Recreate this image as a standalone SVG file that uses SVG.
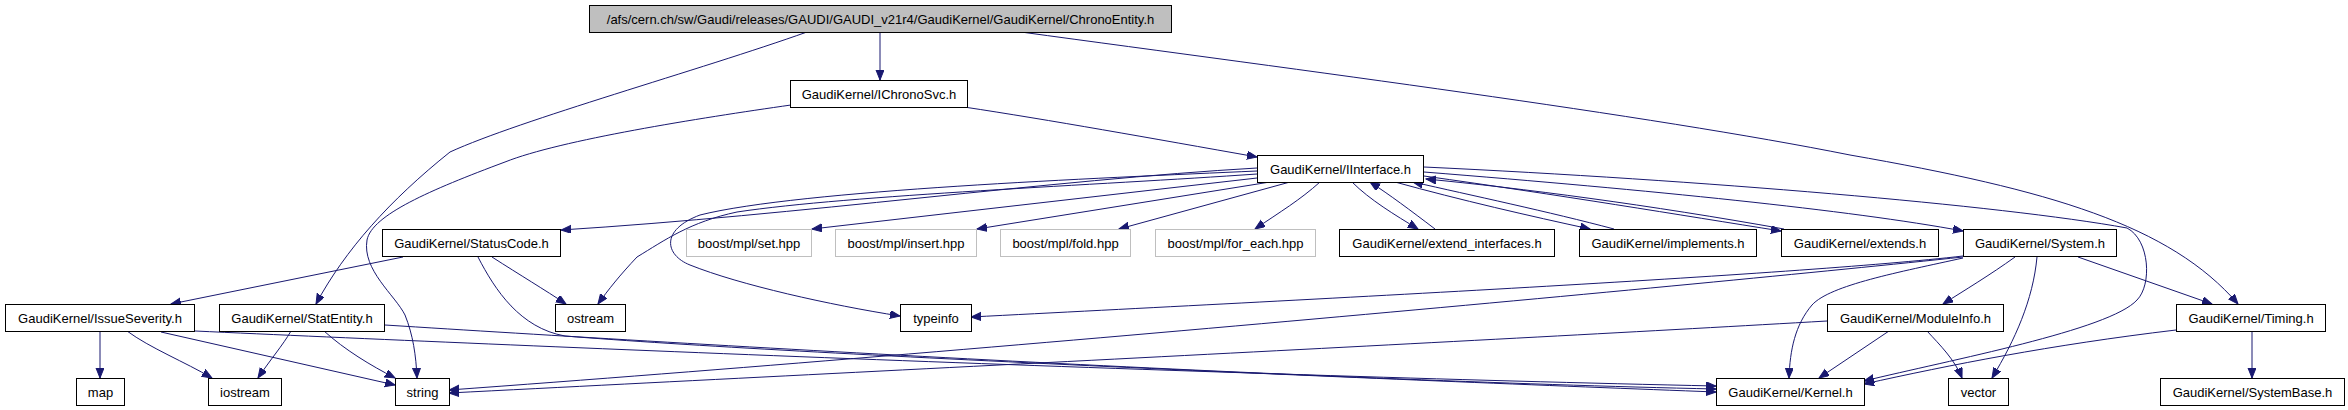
<svg xmlns="http://www.w3.org/2000/svg" width="2348" height="410" viewBox="0 0 2348 410">
<style>
.n rect{fill:#ffffff;stroke:#000000;stroke-width:1}
.n.root rect{fill:#bfbfbf}
.n.ext rect{stroke:#bfbfbf}
.n text{font-family:"Liberation Sans",Arial,sans-serif;font-size:13px;fill:#000000;text-anchor:middle}
#edges path{fill:none;stroke:#191970;stroke-width:1;marker-end:url(#arr)}
</style>
<defs>
<marker id="arr" markerWidth="11" markerHeight="9" refX="10" refY="4" orient="auto" markerUnits="userSpaceOnUse">
<path d="M0,0 L10,4 L0,8 z" fill="#191970" stroke="#191970" stroke-width="1"/>
</marker>
</defs>
<rect width="2348" height="410" fill="#ffffff"/>
<g id="edges">
<path d="M880,32 L880,80"/>
<path d="M807,32 C700,70 520,120 450,152 C390,200 345,250 316,304"/>
<path d="M1021,32 C1300,70 1650,115 1850,155 C2050,190 2170,225 2238,304"/>
<path d="M964,107 C1050,120 1150,138 1257,157"/>
<path d="M791,105 C700,118 560,140 505,162 C430,190 372,215 367,240 C362,270 395,295 405,315 C413,335 416,355 417,378"/>
<path d="M1257,168 C1050,180 800,215 561,230"/>
<path d="M1257,178 L812,229"/>
<path d="M1270,182 L977,229"/>
<path d="M1290,182 L1119,229"/>
<path d="M1320,182 C1300,200 1280,212 1255,229"/>
<path d="M1352,182 C1370,200 1395,215 1418,229"/>
<path d="M1435,229 C1410,210 1390,195 1370,182"/>
<path d="M1395,182 C1460,200 1530,216 1590,229"/>
<path d="M1614,229 C1550,212 1470,195 1413,182"/>
<path d="M1424,176 C1560,195 1680,215 1781,231"/>
<path d="M1784,229 C1650,205 1520,188 1426,179"/>
<path d="M1424,172 C1650,190 1850,210 1963,231"/>
<path d="M1424,167 C1700,180 2000,205 2127,228 C2150,240 2152,285 2137,300 C2110,330 1950,360 1864,381"/>
<path d="M1257,174 C1100,185 850,195 737,212 C690,222 665,240 637,257 C620,275 608,290 598,304"/>
<path d="M1257,171 C1100,178 800,190 700,215 C660,230 665,255 690,265 C740,285 830,305 900,316"/>
<path d="M403,257 L171,304"/>
<path d="M492,257 C520,275 545,290 566,304"/>
<path d="M478,257 C495,290 520,328 565,336 C800,355 1400,380 1716,392"/>
<path d="M100,331 L100,378"/>
<path d="M127,331 C150,348 185,362 212,378"/>
<path d="M161,332 L395,385"/>
<path d="M195,331 C500,345 1200,375 1716,386"/>
<path d="M291,331 C283,345 270,360 258,378"/>
<path d="M324,331 C345,350 370,365 395,378"/>
<path d="M385,325 C700,345 1300,380 1716,389"/>
<path d="M1963,256 C1800,275 1300,300 971,317"/>
<path d="M1963,257 C1700,285 1000,350 449,390"/>
<path d="M1963,258 C1900,272 1830,285 1812,305 C1795,325 1790,350 1789,378"/>
<path d="M2015,257 C1990,275 1965,290 1943,304"/>
<path d="M2037,257 C2033,300 2015,340 1992,378"/>
<path d="M2078,257 L2212,304"/>
<path d="M1827,321 C1500,340 900,370 449,393"/>
<path d="M1889,331 L1819,378"/>
<path d="M1927,331 C1940,345 1955,360 1962,378"/>
<path d="M2176,330 C2050,345 1950,365 1864,384"/>
<path d="M2252,331 L2252,378"/>
</g>
<g id="n_root" class="n root"><rect x="589.5" y="5.5" width="582" height="27"/><text x="880.5" y="23.5">/afs/cern.ch/sw/Gaudi/releases/GAUDI/GAUDI_v21r4/GaudiKernel/GaudiKernel/ChronoEntity.h</text></g>
<g id="n_ichronosvc" class="n"><rect x="790.5" y="80.5" width="177" height="27"/><text x="879" y="98.5">GaudiKernel/IChronoSvc.h</text></g>
<g id="n_iinterface" class="n"><rect x="1257.5" y="155.5" width="166" height="27"/><text x="1340.5" y="173.5">GaudiKernel/IInterface.h</text></g>
<g id="n_statuscode" class="n"><rect x="382.5" y="229.5" width="178" height="27"/><text x="471.5" y="247.5">GaudiKernel/StatusCode.h</text></g>
<g id="n_set" class="n ext"><rect x="686.5" y="229.5" width="125" height="27"/><text x="749" y="247.5">boost/mpl/set.hpp</text></g>
<g id="n_insert" class="n ext"><rect x="835.5" y="229.5" width="141" height="27"/><text x="906" y="247.5">boost/mpl/insert.hpp</text></g>
<g id="n_fold" class="n ext"><rect x="1000.5" y="229.5" width="130" height="27"/><text x="1065.5" y="247.5">boost/mpl/fold.hpp</text></g>
<g id="n_foreach" class="n ext"><rect x="1155.5" y="229.5" width="160" height="27"/><text x="1235.5" y="247.5">boost/mpl/for_each.hpp</text></g>
<g id="n_extendif" class="n"><rect x="1339.5" y="229.5" width="215" height="27"/><text x="1447" y="247.5">GaudiKernel/extend_interfaces.h</text></g>
<g id="n_implements" class="n"><rect x="1579.5" y="229.5" width="177" height="27"/><text x="1668" y="247.5">GaudiKernel/implements.h</text></g>
<g id="n_extends" class="n"><rect x="1781.5" y="229.5" width="157" height="27"/><text x="1860" y="247.5">GaudiKernel/extends.h</text></g>
<g id="n_system" class="n"><rect x="1963.5" y="229.5" width="153" height="27"/><text x="2040" y="247.5">GaudiKernel/System.h</text></g>
<g id="n_issueseverity" class="n"><rect x="5.5" y="304.5" width="189" height="27"/><text x="100" y="322.5">GaudiKernel/IssueSeverity.h</text></g>
<g id="n_statentity" class="n"><rect x="219.5" y="304.5" width="165" height="27"/><text x="302" y="322.5">GaudiKernel/StatEntity.h</text></g>
<g id="n_ostream" class="n"><rect x="555.5" y="304.5" width="70" height="27"/><text x="590.5" y="322.5">ostream</text></g>
<g id="n_typeinfo" class="n"><rect x="900.5" y="304.5" width="71" height="27"/><text x="936" y="322.5">typeinfo</text></g>
<g id="n_moduleinfo" class="n"><rect x="1827.5" y="304.5" width="176" height="27"/><text x="1915.5" y="322.5">GaudiKernel/ModuleInfo.h</text></g>
<g id="n_timing" class="n"><rect x="2176.5" y="304.5" width="149" height="27"/><text x="2251" y="322.5">GaudiKernel/Timing.h</text></g>
<g id="n_map" class="n"><rect x="76.5" y="378.5" width="48" height="27"/><text x="100.5" y="396.5">map</text></g>
<g id="n_iostream" class="n"><rect x="208.5" y="378.5" width="73" height="27"/><text x="245" y="396.5">iostream</text></g>
<g id="n_string" class="n"><rect x="395.5" y="378.5" width="54" height="27"/><text x="422.5" y="396.5">string</text></g>
<g id="n_kernel" class="n"><rect x="1716.5" y="378.5" width="148" height="27"/><text x="1790.5" y="396.5">GaudiKernel/Kernel.h</text></g>
<g id="n_vector" class="n"><rect x="1948.5" y="378.5" width="60" height="27"/><text x="1978.5" y="396.5">vector</text></g>
<g id="n_systembase" class="n"><rect x="2160.5" y="378.5" width="184" height="27"/><text x="2252.5" y="396.5">GaudiKernel/SystemBase.h</text></g>
</svg>
